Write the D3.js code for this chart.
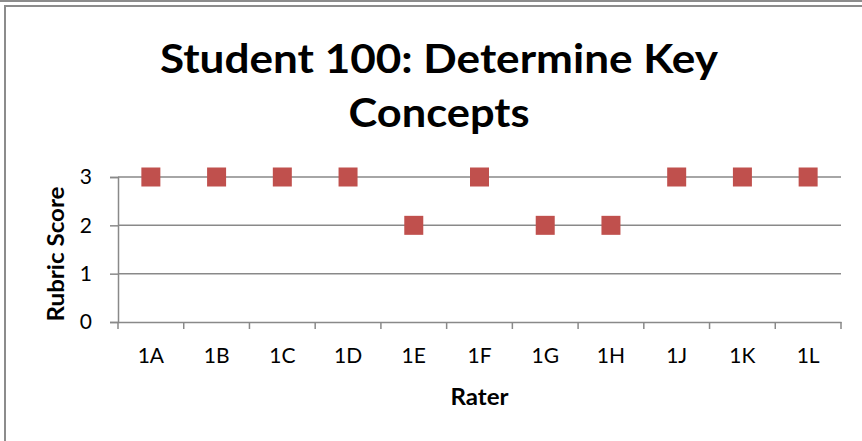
<!DOCTYPE html>
<html><head><meta charset="utf-8">
<script src="https://cdn.jsdelivr.net/npm/d3@7"></script>
<style>body{margin:0;background:#fff;overflow:hidden}text{font-family:Lato,"Open Sans",sans-serif;fill:#000}</style>
</head><body><svg id="c" width="862" height="441"></svg>
<script>
const categories = ["1A","1B","1C","1D","1E","1F","1G","1H","1J","1K","1L"];
const scores = [3,3,3,3,2,3,2,2,3,3,3];
const yTicks = [0,1,2,3];
const titleLines = ["Student 100: Determine Key","Concepts"];

const svg = d3.select("#c");
// outer borders
svg.append("rect").attr("x",0).attr("y",0).attr("width",862).attr("height",2).attr("fill","#8c8c8c");
svg.append("rect").attr("x",5).attr("y",6).attr("width",870).attr("height",450).attr("fill","none").attr("stroke","#8c8c8c").attr("stroke-width",2);

const m = {l:118, r:841, t:177, b:322};
const x = d3.scaleBand().domain(categories).range([m.l,m.r]);
const y = d3.scaleLinear().domain([0,3]).range([m.b,m.t]);
const grid = "#898989";

// gridlines
svg.append("g").selectAll("line").data(yTicks.filter(d=>d>0)).join("line")
  .attr("x1",m.l).attr("x2",m.r).attr("y1",d=>y(d)).attr("y2",d=>y(d))
  .attr("stroke",grid).attr("stroke-width",1.5);

// y axis
const ya = svg.append("g").attr("transform",`translate(${m.l},0)`)
  .call(d3.axisLeft(y).tickValues(yTicks).tickFormat(d3.format("d")).tickSize(8).tickPadding(18));
ya.select(".domain").attr("stroke",grid).attr("stroke-width",1.5);
ya.selectAll(".tick line").attr("stroke",grid).attr("stroke-width",1.5);
ya.selectAll(".tick text").attr("font-size",21).attr("font-family","Lato,sans-serif").attr("fill","#000");

// x axis
const xa = svg.append("g").attr("transform",`translate(0,${m.b})`)
  .call(d3.axisBottom(x).tickSize(0).tickPadding(26));
xa.select(".domain").attr("stroke",grid).attr("stroke-width",1.5);
xa.selectAll(".tick text").attr("font-size",21).attr("font-family","Lato,sans-serif").attr("fill","#000");
const bounds = categories.map(c=>x(c)).concat([m.r]);
xa.selectAll(".bt").data(bounds).join("line").attr("class","bt")
  .attr("x1",d=>d).attr("x2",d=>d).attr("y1",0).attr("y2",7)
  .attr("stroke",grid).attr("stroke-width",1.5);

// markers
const s = 19;
svg.append("g").selectAll("rect").data(categories.map((c,i)=>({c,v:scores[i]}))).join("rect")
  .attr("x",d=>x(d.c)+x.bandwidth()/2-s/2).attr("y",d=>y(d.v)-s/2)
  .attr("width",s).attr("height",s).attr("fill","#C0504D");

// title
const tw = [558,181];
svg.append("g").selectAll("text").data(titleLines).join("text")
  .attr("x",439).attr("y",(d,i)=>73+i*54).attr("text-anchor","middle")
  .attr("font-size",40).attr("font-weight","bold")
  .attr("textLength",(d,i)=>tw[i]).attr("lengthAdjust","spacingAndGlyphs").text(d=>d);

// axis titles
svg.append("text").attr("x",479.5).attr("y",405).attr("text-anchor","middle")
  .attr("font-size",23).attr("font-weight","bold").attr("textLength",58).attr("lengthAdjust","spacingAndGlyphs").text("Rater");
svg.append("text").attr("transform","translate(64,254) rotate(-90)").attr("text-anchor","middle")
  .attr("font-size",23).attr("font-weight","bold").attr("textLength",135).attr("lengthAdjust","spacingAndGlyphs").text("Rubric Score");
</script></body></html>
